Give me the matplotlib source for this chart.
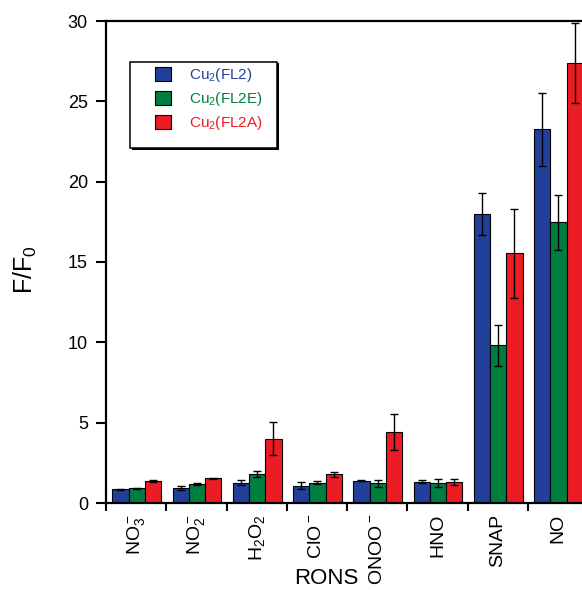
import matplotlib
matplotlib.use('Agg')
import matplotlib.pyplot as plt
import numpy as np
from matplotlib.patches import Rectangle

plt.rcParams['font.family'] = ['Liberation Sans', 'DejaVu Sans']
plt.rcParams['mathtext.fontset'] = 'custom'
plt.rcParams['mathtext.rm'] = 'Liberation Sans'
plt.rcParams['mathtext.it'] = 'Liberation Sans:italic'
plt.rcParams['mathtext.bf'] = 'Liberation Sans:bold'

# ---- data ----
categories = [r'$\mathregular{NO_3^-}$', r'$\mathregular{NO_2^-}$', r'$\mathregular{H_2O_2}$',
              r'$\mathregular{ClO^-}$', r'$\mathregular{ONOO^-}$', 'HNO', 'SNAP', 'NO']
series_labels = [r'$\mathregular{Cu_2}$(FL2)', r'$\mathregular{Cu_2}$(FL2E)', r'$\mathregular{Cu_2}$(FL2A)']
fl2 = [0.85, 0.93, 1.26, 1.08, 1.39, 1.33, 17.98, 23.25]
fl2_err = [0.05, 0.10, 0.15, 0.20, 0.05, 0.10, 1.33, 2.27]
fl2e = [0.93, 1.16, 1.82, 1.26, 1.22, 1.23, 9.81, 17.47]
fl2e_err = [0.03, 0.06, 0.20, 0.08, 0.20, 0.25, 1.27, 1.72]
fl2a = [1.35, 1.55, 4.00, 1.78, 4.40, 1.30, 15.54, 27.40]
fl2a_err = [0.06, 0.03, 1.04, 0.15, 1.13, 0.20, 2.75, 2.50]
yticks = [0, 5, 10, 15, 20, 25, 30]

colors = ['#22409A', '#007E3F', '#EC1C24']

fig = plt.figure(figsize=(5.82, 5.92), dpi=100)
ax = fig.add_axes([106/582, 89/592, 482/582, 482/592])

x = np.arange(len(categories))
width = 0.27
for k, (vals, errs) in enumerate([(fl2, fl2_err), (fl2e, fl2e_err), (fl2a, fl2a_err)]):
    ax.bar(x + 0.51 + (k - 1) * width, vals, width=width, color=colors[k],
           edgecolor='black', linewidth=0.8, yerr=errs, capsize=3,
           error_kw=dict(elinewidth=1, capthick=1, ecolor='black'),
           label=series_labels[k])

ax.set_xlim(0, 8)
ax.set_ylim(0, 30)
ax.set_yticks(yticks)
ax.set_yticklabels([str(v) for v in yticks])
ax.set_xticks(np.arange(9))
ax.set_xticklabels([''] * 9)
ax.set_xticks(x + 0.5, minor=True)
ax.set_xticklabels(categories, minor=True, rotation=90)

ax.tick_params(axis='x', which='major', direction='out', length=6, width=1.5)
ax.tick_params(axis='x', which='minor', length=0, pad=8, labelsize=14)
ax.tick_params(axis='y', direction='out', length=7, width=1.5, pad=6, labelsize=13)

for s in ['left', 'bottom', 'top']:
    ax.spines[s].set_linewidth(1.6)
ax.spines['right'].set_visible(False)

# legend
leg = ax.legend(loc='upper left', bbox_to_anchor=(155/582, 1 - 66/592),
                bbox_transform=fig.transFigure, frameon=False, fontsize=11,
                handlelength=1.05, handleheight=1.0, handletextpad=1.2,
                labelspacing=0.4, borderpad=0, borderaxespad=0)
for t, c in zip(leg.get_texts(), colors):
    t.set_color(c)

shadow = Rectangle((131.5/582, 1 - 149.5/592), 147/582, 86/592, transform=fig.transFigure,
                   facecolor='black', edgecolor='none', lw=0, zorder=3)
box = Rectangle((130/582, 1 - 148/592), 147/582, 86/592, transform=fig.transFigure,
                facecolor='white', edgecolor='black', lw=1.1, zorder=4)
ax.add_artist(shadow)
ax.add_artist(box)

fig.text(326/582, 1 - 578/592, 'RONS', ha='center', va='center', fontsize=16)
fig.text(25/582, 1 - 270/592, r'$\mathregular{F/F_0}$', ha='center', va='center',
         rotation=90, fontsize=18)

fig.savefig('out.png', dpi=100)
